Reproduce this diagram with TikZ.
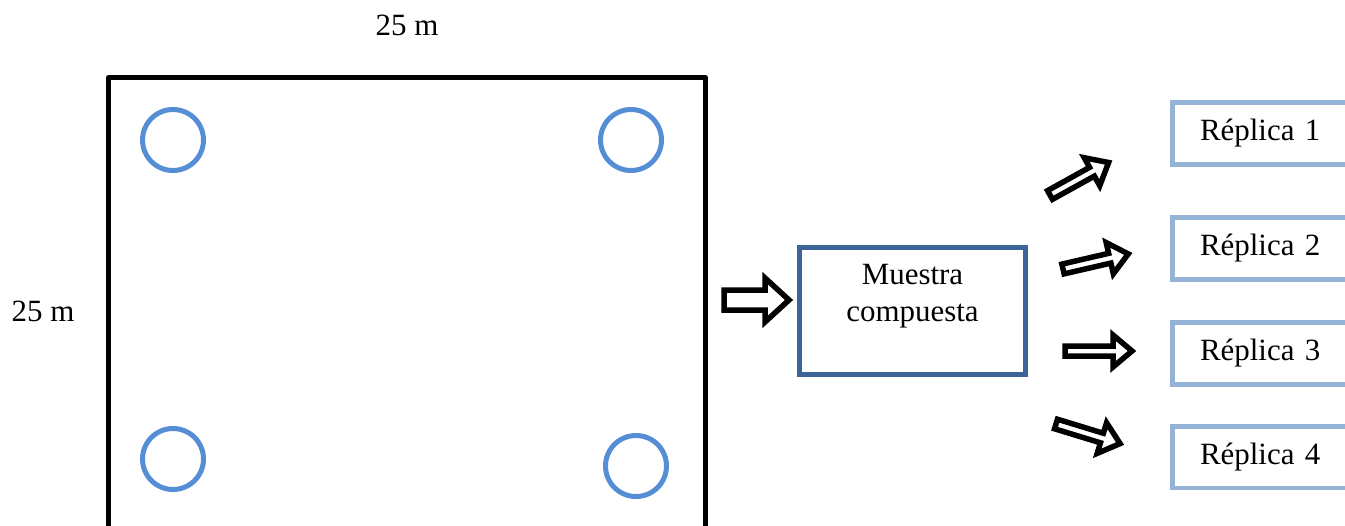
\documentclass[tikz,border=0pt]{standalone}
\usepackage{fontspec}
\setmainfont{Liberation Serif}
\definecolor{pozoazul}{RGB}{85,142,213}
\definecolor{muestraazul}{RGB}{60,100,150}
\definecolor{replicaazul}{RGB}{149,179,215}
\begin{document}
\begin{tikzpicture}[x=0.02cm, y=0.02cm, line width=0.1cm,
  every node/.style={font=\fontsize{17.6}{21.1}\selectfont},
  parcela/.style={draw=black, line join=round, minimum width=11.94cm, minimum height=9.34cm, inner sep=0pt},
  pozo/.style={circle, draw=pozoazul, minimum size=1.22cm, inner sep=0pt},
  muestra/.style={draw=muestraazul, align=center, minimum width=4.52cm, minimum height=2.54cm},
  replica/.style={draw=replicaazul, anchor=west, text width=3.5cm, align=left, inner xsep=0.55cm, minimum height=1.24cm},
  flecha/.pic={\draw[fill=white, line width=0.11cm, miter limit=20] (0,-5) -- (48,-5) -- (48,-16) -- (67,0) -- (48,16) -- (48,5) -- (0,5) -- cycle;},
  flechagrande/.pic={\draw[fill=white, line width=0.11cm, miter limit=20] (0,-10) -- (41,-10) -- (41,-22) -- (65,0) -- (41,22) -- (41,10) -- (0,10) -- cycle;}]
\useasboundingbox (0,0) rectangle (1345,525);
\clip (0,0) rectangle (1345,525);
% parcela de muestreo
\node[parcela] (parcela) at (407,214) {};
\node (ancho) at (407,500) {25 m};
\node (alto) at (43,214) {25 m};
\node[pozo] (p1) at (173,385) {};
\node[pozo] (p2) at (631,385) {};
\node[pozo] (p3) at (173,66) {};
\node[pozo] (p4) at (636,59) {};
% muestra compuesta
\pic at (724,225) {flechagrande};
\node[muestra] (muestra) at (912.5,214) {Muestra\\compuesta\\\mbox{}};
% replicas
\pic[rotate=29] at (1050,330) {flecha};
\pic[rotate=13] at (1063,256) {flecha};
\pic at (1065,174) {flecha};
\pic[rotate=-17] at (1056,101) {flecha};
\node[replica] (r1) at (1170,391.5) {Réplica 1};
\node[replica] (r2) at (1170,276.5) {Réplica 2};
\node[replica] (r3) at (1170,171.5) {Réplica 3};
\node[replica] (r4) at (1170,68) {Réplica 4};
\end{tikzpicture}
\end{document}
